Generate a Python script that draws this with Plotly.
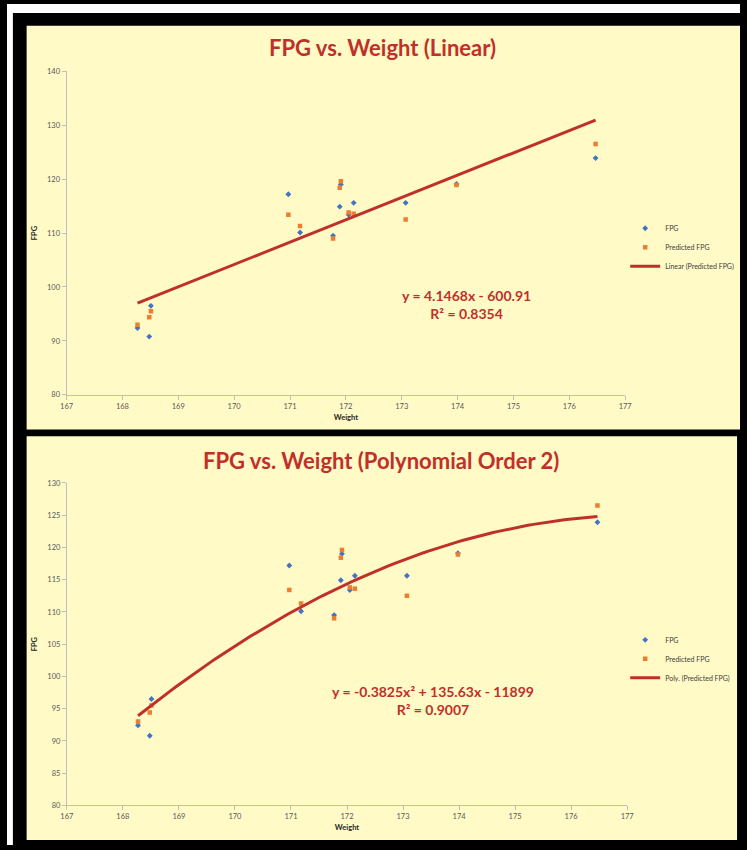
import numpy as np
import plotly.graph_objects as go

# ---- data ----
weight = [168.27, 168.48, 168.51, 170.97, 171.18, 171.77, 171.89, 171.91,
          172.05, 172.14, 173.07, 173.98, 176.47]
fpg = [92.4, 90.8, 96.5, 117.2, 110.1, 109.5, 114.9, 119.0,
       113.4, 115.6, 115.6, 119.1, 123.9]
predicted_fpg = [93.0, 94.4, 95.5, 113.4, 111.3, 109.0, 118.4, 119.6,
                 113.8, 113.6, 112.5, 118.9, 126.5]

x_ticks = [167, 168, 169, 170, 171, 172, 173, 174, 175, 176, 177]
y_ticks_top = [80, 90, 100, 110, 120, 130, 140]
y_ticks_bottom = [80, 85, 90, 95, 100, 105, 110, 115, 120, 125, 130]

title_top = "FPG vs. Weight (Linear)"
title_bottom = "FPG vs. Weight (Polynomial Order 2)"
eq_top = "y = 4.1468x - 600.91<br>R² = 0.8354"
eq_bottom = "y = -0.3825x² + 135.63x - 11899<br>R² = 0.9007"

# trendlines fitted on Predicted FPG (as the spreadsheet does)
xs = np.linspace(min(weight), max(weight), 120)
lin = np.polyval(np.polyfit(weight, predicted_fpg, 1), xs)
poly = np.polyval(np.polyfit(weight, predicted_fpg, 2), xs)

W, H = 747, 850
BLUE = "#4472C4"
ORANGE = "#ED7D31"
RED = "#C0302B"
YELLOW = "#FFFAC6"
FONT = "Lato"


def px(x):
    return x / W


def py(y):
    return 1 - y / H


fig = go.Figure()

# top chart
fig.add_trace(go.Scatter(x=weight, y=fpg, mode="markers", name="FPG",
                         marker=dict(symbol="diamond", size=4.5, color=BLUE),
                         xaxis="x", yaxis="y", legend="legend"))
fig.add_trace(go.Scatter(x=weight, y=predicted_fpg, mode="markers", name="Predicted FPG",
                         marker=dict(symbol="square", size=4.5, color=ORANGE),
                         xaxis="x", yaxis="y", legend="legend"))
fig.add_trace(go.Scatter(x=xs, y=lin, mode="lines", name="Linear (Predicted FPG)",
                         line=dict(color=RED, width=3),
                         xaxis="x", yaxis="y", legend="legend"))

# bottom chart
fig.add_trace(go.Scatter(x=weight, y=fpg, mode="markers", name="FPG",
                         marker=dict(symbol="diamond", size=4.5, color=BLUE),
                         xaxis="x2", yaxis="y2", legend="legend2"))
fig.add_trace(go.Scatter(x=weight, y=predicted_fpg, mode="markers", name="Predicted FPG",
                         marker=dict(symbol="square", size=4.5, color=ORANGE),
                         xaxis="x2", yaxis="y2", legend="legend2"))
fig.add_trace(go.Scatter(x=xs, y=poly, mode="lines", name="Poly. (Predicted FPG)",
                         line=dict(color=RED, width=3),
                         xaxis="x2", yaxis="y2", legend="legend2"))

axis_common = dict(showgrid=False, zeroline=False, showline=True, linecolor="#BFBFBF",
                   linewidth=1, ticks="outside", ticklen=4, tickcolor="#BFBFBF",
                   tickfont=dict(family=FONT, size=7.5, color="#595959"), mirror=False)
title_font = dict(family=FONT, size=7.5, color="#262626")
legend_font = dict(family=FONT, size=7, color="#404040")

fig.update_layout(
    width=W, height=H, autosize=False,
    margin=dict(l=0, r=0, t=0, b=0),
    paper_bgcolor="black", plot_bgcolor="white",
    font=dict(family=FONT),
    xaxis=dict(domain=[px(60.7), px(630)], range=[167, 177], tickvals=x_ticks,
               anchor="y", title=dict(text="<b>Weight</b>", font=title_font, standoff=4),
               **axis_common),
    yaxis=dict(domain=[py(395), py(68)], range=[80, 140], tickvals=y_ticks_top,
               anchor="x", title=dict(text="<b>FPG</b>", font=title_font, standoff=8),
               **axis_common),
    xaxis2=dict(domain=[px(61), px(632)], range=[167, 177], tickvals=x_ticks,
                anchor="y2", title=dict(text="<b>Weight</b>", font=title_font, standoff=4),
                **axis_common),
    yaxis2=dict(domain=[py(810), py(484)], range=[80, 130], tickvals=y_ticks_bottom,
                anchor="x2", title=dict(text="<b>FPG</b>", font=title_font, standoff=8),
                **axis_common),
    legend=dict(x=px(630), y=py(212), xanchor="left", yanchor="top",
                bgcolor="rgba(0,0,0,0)", font=legend_font, itemwidth=30, tracegroupgap=0),
    legend2=dict(x=px(630), y=py(628), xanchor="left", yanchor="top",
                 bgcolor="rgba(0,0,0,0)", font=legend_font, itemwidth=30, tracegroupgap=0),
    shapes=[
        dict(type="rect", xref="paper", yref="paper", x0=0, x1=1, y0=py(9), y1=1,
             fillcolor="white", line_width=0, layer="below"),
        dict(type="rect", xref="paper", yref="paper", x0=0, x1=px(6), y0=0, y1=1,
             fillcolor="white", line_width=0, layer="below"),
        dict(type="rect", xref="paper", yref="paper", x0=px(20), x1=1, y0=py(430), y1=py(22),
             fillcolor=YELLOW, line_width=0, layer="below"),
        dict(type="rect", xref="paper", yref="paper", x0=px(20), x1=px(744), y0=py(845), y1=py(437),
             fillcolor=YELLOW, line_width=0, layer="below"),
    ],
    annotations=[
        dict(text="<b>" + title_top + "</b>", xref="paper", yref="paper", x=px(383), y=py(44),
             xanchor="center", yanchor="middle", showarrow=False,
             font=dict(family=FONT, size=22, color=RED)),
        dict(text="<b>" + title_bottom + "</b>", xref="paper", yref="paper", x=px(381), y=py(461),
             xanchor="center", yanchor="middle", showarrow=False,
             font=dict(family=FONT, size=22, color=RED)),
        dict(text="<b>" + eq_top + "</b>", xref="paper", yref="paper", x=px(468), y=py(304),
             xanchor="center", yanchor="middle", showarrow=False, align="center",
             font=dict(family=FONT, size=14, color=RED)),
        dict(text="<b>" + eq_bottom + "</b>", xref="paper", yref="paper", x=px(434), y=py(704),
             xanchor="center", yanchor="middle", showarrow=False, align="center",
             font=dict(family=FONT, size=14, color=RED)),
    ],
)

fig.write_html("out.html",
               config={"displayModeBar": False},
               post_script="document.body.style.margin='0px';"
                           "document.body.style.overflow='hidden';")
